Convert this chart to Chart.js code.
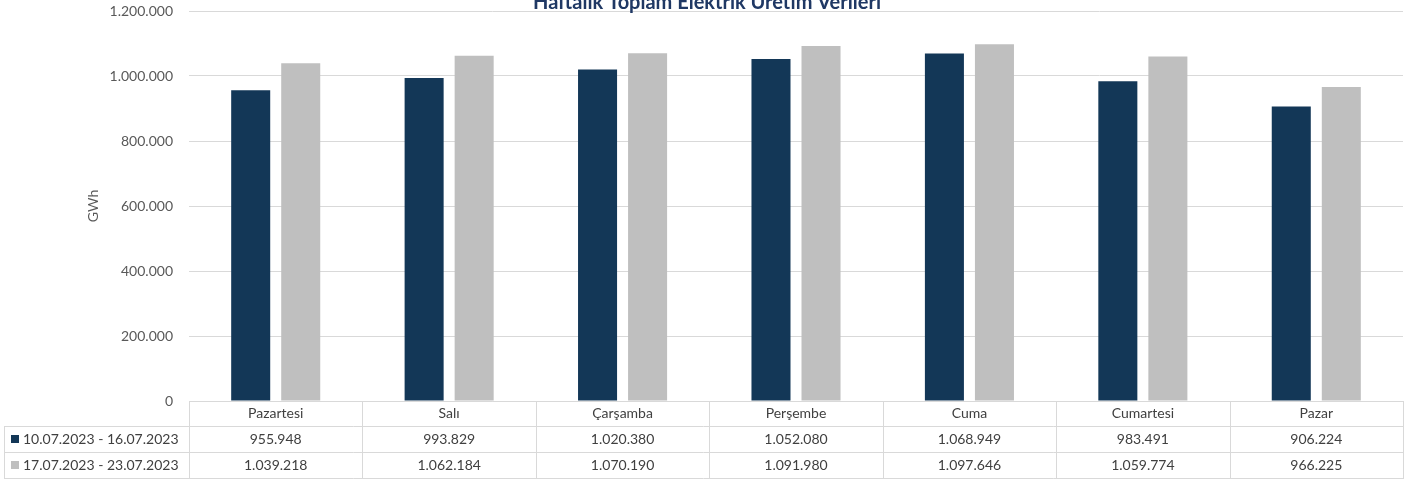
<!DOCTYPE html>
<html>
<head>
<meta charset="utf-8">
<script src="https://cdn.jsdelivr.net/npm/chart.js@4.4.0/dist/chart.umd.min.js"></script>
<style>
  html, body { margin: 0; padding: 0; background: #fff; overflow: hidden; width: 1414px; height: 480px; }
  #wrap { position: absolute; left: 0; top: 0; width: 1414px; height: 480px; }
</style>
</head>
<body>
<div id="wrap"><canvas id="c"></canvas></div>
<script>
const categories = ['Pazartesi', 'Salı', 'Çarşamba', 'Perşembe', 'Cuma', 'Cumartesi', 'Pazar'];
const seriesNames = ['10.07.2023 - 16.07.2023', '17.07.2023 - 23.07.2023'];
const week1 = [955948, 993829, 1020380, 1052080, 1068949, 983491, 906224];
const week2 = [1039218, 1062184, 1070190, 1091980, 1097646, 1059774, 966225];
const yTicks = [0, 200000, 400000, 600000, 800000, 1000000, 1200000];
const colors = ['#133757', '#BFBFBF'];
const titleText = 'Haftalık Toplam Elektrik Üretim Verileri';
const yTitle = 'GWh';

function fmt(v) {
  return String(v).replace(/\B(?=(\d{3})+(?!\d))/g, '.');
}

const FONT = 'Lato, "Noto Sans", sans-serif';
const gridColor = '#D9D9D9';

const titlePlugin = {
  id: 'clippedTitle',
  afterDraw(chart) {
    const ctx = chart.ctx;
    ctx.save();
    ctx.font = 'bold 20px ' + FONT;
    ctx.fillStyle = '#1F3864';
    ctx.textAlign = 'center';
    ctx.textBaseline = 'alphabetic';
    ctx.fillText(titleText, chart.width / 2, 9);
    ctx.restore();
  }
};

const tablePlugin = {
  id: 'dataTable',
  afterDraw(chart) {
    const ctx = chart.ctx;
    const ca = chart.chartArea;
    const xs = chart.scales.x;
    const n = categories.length;
    const cw = ca.width / n;
    const top = ca.bottom;
    const r1 = top + 25, r2 = top + 51, r3 = top + 77;
    const leftX = ca.left - 185;
    ctx.save();
    ctx.strokeStyle = gridColor;
    ctx.lineWidth = 1;
    const h = (x1, x2, y) => { ctx.beginPath(); ctx.moveTo(x1, Math.round(y) + 0.5); ctx.lineTo(x2, Math.round(y) + 0.5); ctx.stroke(); };
    const v = (x, y1, y2) => { ctx.beginPath(); ctx.moveTo(Math.round(x) + 0.5, y1); ctx.lineTo(Math.round(x) + 0.5, y2); ctx.stroke(); };
    h(ca.left, ca.right, top);
    h(leftX, ca.right, r1);
    h(leftX, ca.right, r2);
    h(leftX, ca.right, r3);
    v(leftX, r1, r3 + 1);
    for (let i = 0; i <= n; i++) {
      v(ca.left + i * cw, top, r3 + 1);
    }
    ctx.font = '14px ' + FONT;
    ctx.fillStyle = '#404040';
    ctx.textAlign = 'center';
    ctx.textBaseline = 'middle';
    const series = [week1, week2];
    for (let i = 0; i < n; i++) {
      const cx = xs.getPixelForValue(i);
      ctx.fillText(categories[i], cx, (top + r1) / 2);
      ctx.fillText(fmt(series[0][i]), cx, (r1 + r2) / 2);
      ctx.fillText(fmt(series[1][i]), cx, (r2 + r3) / 2);
    }
    const rowsY = [(r1 + r2) / 2, (r2 + r3) / 2];
    ctx.textAlign = 'left';
    for (let s = 0; s < 2; s++) {
      ctx.fillStyle = colors[s];
      ctx.fillRect(leftX + 7, Math.round(rowsY[s]) - 4, 8, 8);
      ctx.fillStyle = '#404040';
      ctx.fillText(seriesNames[s], leftX + 19, rowsY[s]);
    }
    ctx.restore();
  }
};

new Chart(document.getElementById('c'), {
  type: 'bar',
  data: {
    labels: categories,
    datasets: [
      { label: seriesNames[0], data: week1, backgroundColor: colors[0], categoryPercentage: 0.577, barPercentage: 0.78 },
      { label: seriesNames[1], data: week2, backgroundColor: colors[1], categoryPercentage: 0.577, barPercentage: 0.78 }
    ]
  },
  options: {
    responsive: true,
    maintainAspectRatio: false,
    animation: false,
    layout: { padding: { left: 81, right: 11, top: 11, bottom: 0 } },
    plugins: {
      legend: { display: false },
      tooltip: { enabled: false },
      title: { display: false }
    },
    scales: {
      x: {
        grid: { display: false },
        border: { display: false },
        ticks: { display: false },
        afterFit(scale) { scale.height = 79; }
      },
      y: {
        min: 0,
        max: 1200000,
        afterBuildTicks(scale) { scale.ticks = yTicks.map(v => ({ value: v })); },
        afterFit(scale) { scale.width = 108; },
        grid: { color: gridColor, lineWidth: 1, drawTicks: true, tickLength: 16, tickColor: 'rgba(0,0,0,0)' },
        border: { display: false },
        ticks: {
          padding: 0,
          color: '#595959',
          font: { family: FONT, size: 14 },
          callback: (v) => fmt(v)
        },
        title: {
          display: true,
          text: yTitle,
          color: '#595959',
          font: { family: FONT, size: 14 },
          padding: { top: 4, bottom: 4 }
        }
      }
    }
  },
  plugins: [tablePlugin, titlePlugin]
});
</script>
</body>
</html>
